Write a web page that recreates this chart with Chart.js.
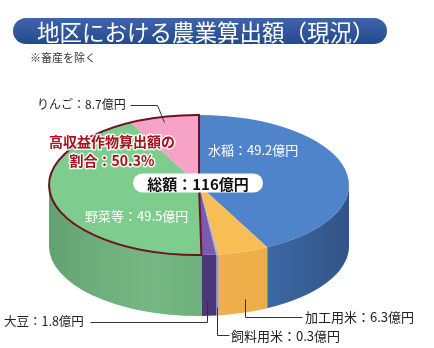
<!DOCTYPE html>
<html>
<head>
<meta charset="utf-8">
<script src="https://cdn.jsdelivr.net/npm/chart.js@4"></script>
<style>
html,body{margin:0;padding:0;background:#fff;}
#wrap{position:relative;width:434px;height:348px;font-family:"Noto Sans CJK JP",sans-serif;}
canvas{position:absolute;left:0;top:0;}
#title{position:absolute;left:13px;top:18px;width:374px;height:26px;border-radius:13px;
  background:linear-gradient(#3d65ab,#26498d);color:#fff;font-size:22.5px;line-height:26px;
  padding-left:24px;box-sizing:border-box;white-space:nowrap;}
#note{position:absolute;left:30px;top:49px;font-size:11px;color:#333;}
</style>
</head>
<body>
<div id="wrap">
  <canvas id="pieChart" width="434" height="348"></canvas>
  <div id="title">地区における農業算出額（現況）</div>
  <div id="note">※畜産を除く</div>
</div>
<script>
const categories = ["水稲","加工用米","飼料用米","大豆","野菜等","りんご"];
const values = [49.2, 6.3, 0.3, 1.8, 49.5, 8.7];
const totalText = "総額：116億円";
const shareText = ["高収益作物算出額の", "割合：50.3%"];

const topColors  = ["#4f84cb","#f8bd55","#aab4cc","#7a5aae","#7ecd8e","#f6a3c7"];
const sideColors = ["#3f6cab","#f3b24c","#8d96b0","#4a3478","#6db37c","#e08fb3"];

const CY = 185, RY = 70, DEPTH = 61;
const FONT = '"Noto Sans CJK JP", sans-serif';

function label(v, i){ return categories[i] + "：" + v + "億円"; }

const pie3d = {
  id: "pie3d",
  beforeDatasetsDraw(chart) {
    const ctx = chart.ctx;
    const arcs = chart.getDatasetMeta(0).data;
    const cx = arcs[0].x, rx = arcs[0].outerRadius;
    // side walls, front half only
    arcs.forEach((arc, i) => {
      const s = Math.max(arc.startAngle, 0), e = Math.min(arc.endAngle, Math.PI);
      if (e <= s) return;
      ctx.beginPath();
      ctx.ellipse(cx, CY, rx, RY, 0, s, e);
      ctx.ellipse(cx, CY + DEPTH, rx, RY, 0, e, s, true);
      ctx.closePath();
      ctx.fillStyle = sideColors[i];
      ctx.fill();
    });
    // shading
    ctx.beginPath();
    ctx.ellipse(cx, CY, rx, RY, 0, 0, Math.PI);
    ctx.ellipse(cx, CY + DEPTH, rx, RY, 0, Math.PI, 0, true);
    ctx.closePath();
    const g = ctx.createLinearGradient(cx - rx, 0, cx + rx, 0);
    g.addColorStop(0, "rgba(0,0,0,0.10)");
    g.addColorStop(0.35, "rgba(255,255,255,0.06)");
    g.addColorStop(0.7, "rgba(0,0,0,0.02)");
    g.addColorStop(1, "rgba(0,0,0,0.22)");
    ctx.fillStyle = g;
    ctx.fill();
    // flatten the top
    ctx.save();
    ctx.translate(0, CY);
    ctx.scale(1, RY / rx);
    ctx.translate(0, -arcs[0].y);
  },
  afterDatasetsDraw(chart) {
    const ctx = chart.ctx;
    ctx.restore();
    const arcs = chart.getDatasetMeta(0).data;
    const cx = arcs[0].x, rx = arcs[0].outerRadius;
    const pt = (a) => [cx + rx * Math.cos(a), CY + RY * Math.sin(a)];

    // outline of high-profit crops (野菜等 + りんご)
    const s = arcs[4].startAngle, e = arcs[5].endAngle;
    ctx.save();
    ctx.beginPath();
    ctx.moveTo(cx, CY);
    ctx.lineTo(...pt(s));
    ctx.ellipse(cx, CY, rx, RY, 0, s, e);
    ctx.closePath();
    ctx.strokeStyle = "#6e1322";
    ctx.lineWidth = 2;
    ctx.stroke();

    // slice labels on top
    ctx.font = "13px " + FONT;
    ctx.fillStyle = "#fff";
    ctx.textBaseline = "middle";
    ctx.textAlign = "left";
    ctx.fillText(label(values[0], 0), 208, 150);
    ctx.fillText(label(values[4], 4), 85, 216);

    // high-profit share text
    ctx.font = "bold 14px " + FONT;
    ctx.textAlign = "center";
    ctx.lineJoin = "round";
    ctx.strokeStyle = "rgba(255,255,255,0.85)";
    ctx.lineWidth = 3;
    shareText.forEach((t, k) => {
      ctx.strokeText(t, 112, 142 + k * 19);
      ctx.fillStyle = "#ab1020";
      ctx.fillText(t, 112, 142 + k * 19);
    });

    // total pill
    const pw = 130, ph = 19, px = cx - 1 - pw / 2, py = CY - 2 - ph / 2;
    ctx.beginPath();
    ctx.roundRect(px, py, pw, ph, ph / 2);
    ctx.fillStyle = "#fff";
    ctx.fill();
    ctx.font = "bold 15px " + FONT;
    ctx.fillStyle = "#111";
    ctx.fillText(totalText, cx - 1, CY - 1);

    // outside labels with leader lines
    ctx.strokeStyle = "#333";
    ctx.lineWidth = 1;
    ctx.fillStyle = "#222";
    ctx.textAlign = "left";
    const lines = [
      [[130,105],[157,105],[164,122]],
      [[90,322],[207,322],[207,301]],
      [[229,335],[217,335],[217,307]],
      [[302,317],[245,317],[245,299]]
    ];
    lines.forEach(l => {
      ctx.beginPath();
      ctx.moveTo(l[0][0] + 0.5, l[0][1] + 0.5);
      for (let k = 1; k < l.length; k++) ctx.lineTo(l[k][0] + 0.5, l[k][1] + 0.5);
      ctx.stroke();
    });
    ctx.font = "12px " + FONT;
    ctx.fillText(label(values[5], 5), 37, 104);
    ctx.font = "12.5px " + FONT;
    ctx.fillText(label(values[3], 3), 4, 321);
    ctx.font = "13px " + FONT;
    ctx.fillText(label(values[2], 2), 231, 336);
    ctx.fillText(label(values[1], 1), 305, 317);
    ctx.restore();
  }
};

new Chart(document.getElementById("pieChart"), {
  type: "pie",
  data: {
    labels: categories,
    datasets: [{
      data: values,
      backgroundColor: topColors,
      borderWidth: 0,
      hoverOffset: 0,
      clip: false
    }]
  },
  options: {
    responsive: false,
    animation: false,
    events: [],
    devicePixelRatio: 1,
    layout: { padding: { left: 49, right: 85, top: 20, bottom: 28 } },
    plugins: { legend: { display: false }, tooltip: { enabled: false } }
  },
  plugins: [pie3d]
});
</script>
</body>
</html>
